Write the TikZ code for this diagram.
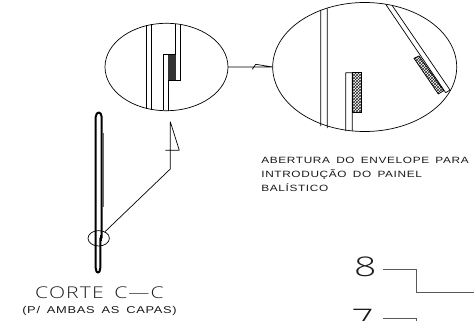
\documentclass[tikz,border=0pt]{standalone}
\usepackage{fontspec}
\usepackage{tkz-euclide}
\usetikzlibrary{patterns}
\newfontfamily\cadfont[FakeStretch=1.3,LetterSpace=7,WordSpace=1.6]{Liberation Sans}
\newfontfamily\cadlight[FakeStretch=1.3,LetterSpace=7,WordSpace=1.6]{Open Sans Light}
\newfontfamily\cadnum[FakeStretch=1.45]{Open Sans Light}
\tikzset{cadtext/.style={inner sep=0pt,font=\cadfont,text=black!90}}
\begin{document}
\begin{tikzpicture}[line width=0.7pt,x=1pt,y=-1pt]
\useasboundingbox (0,0) rectangle (474,321);
\clip (0,0) rectangle (474,321);
% detalhe pequeno
\tkzDefPoints{166.5/67/S,146.7/25/Sa,146.7/109/Sb,151.7/24/Sc,151.7/110/Sd}
\tkzDefPoints{175.7/24/Se,180/24.5/Sf,180/80.7/Sg,175.7/54/Sh,163.3/54/Si,163.3/110/Sj,168/110.5/Sk,168/80.7/Sl}
\draw (S) ellipse (61.5 and 43.7);
\fill[black!80] (168,54) rectangle (175.7,80.7);
\draw(Sa)--(Sb)(Sc)--(Sd)(Se)--(Sh)(Sh)--(Si)(Si)--(Sj)(Sk)--(Sl)(Sl)--(Sg)(Sg)--(Sf);
% detalhe grande
\tkzDefPoints{364.7/67/T,320.7/10/Ta,320.7/126/Tb,327.3/8.5/Tc,327.3/128/Td}
\tkzDefPoints{345.7/72.7/Te,345.7/131/Tf,352.3/131/Tg,352.3/72.7/Th,361.7/72.7/Ti,361.7/112.7/Tj,352.3/112.7/Tk}
\tkzDefPoints{385.7/4.3/Tl,445.7/92.7/Tm,392.3/5.7/Tn,450/90/To}
\tkzDefPoints{414/58.3/Tp,419/56/Tq,443.7/90.7/Tr,438.3/94/Ts}
\draw (T) ellipse (92 and 64.5);
\draw[pattern=crosshatch,pattern color=black!85] (Th)--(Ti)--(Tj)--(Tk)--cycle;
\draw[pattern=crosshatch,pattern color=black!85] (Tp)--(Tq)--(Tr)--(Ts)--cycle;
\draw(Ta)--(Tb)(Tc)--(Td)(Te)--(Tf)(Tg)--(Th)(Te)--(Th)(Tl)--(Tm)(Tn)--(To)(Tm)--(To);
% ligacao entre os detalhes
\tkzDefPoints{227.9/67/Ua,272.7/67/Ub,252.3/69.3/Uc,255.7/64.3/Ud}
\draw(Ua)--(Ub)(Uc)--(Ud)(Ud)--(Ub);
% corte
\tkzDefPoints{98.7/238.3/V,105/231.7/Va,170.3/169/Vb,170.3/121.7/Vc,179.3/150.3/Vd,165.3/150.3/Ve}
\tkzDefPoints{102.7/133/Vf,102.7/206.7/Vg}
\draw[line width=2pt,line join=round] (95.7,268) -- (95.7,117) .. controls (95.7,114) and (97.5,112.5) .. (98.7,112.5)
  .. controls (100,112.5) and (101.7,114) .. (101.7,117) -- (101.7,238) -- (100.3,238) -- (100.3,268)
  .. controls (100.3,271) and (99,272.7) .. (98,272.7) .. controls (97,272.7) and (95.7,271) .. (95.7,268);
\draw[thin,black!60](Vf)--(Vg);
\fill (99.5,235) rectangle (101.7,241);
\draw (V) ellipse (10.7 and 7.7);
\draw(Va)--(Vb)(Vb)--(Vc)(Vc)--(Vd)(Vd)--(Ve);
% textos
\node[cadtext,font=\cadlight\fontsize{16.2}{16.2}\selectfont] (corte) at (99.5,293) {CORTE C—C};
\node[cadtext,font=\cadfont\fontsize{9.9}{9.9}\selectfont] (capas) at (99.5,311) {(P/ AMBAS AS CAPAS)};
\node[cadtext,font=\cadfont\fontsize{9.1}{9.1}\selectfont,anchor=west] (abertura) at (261,160.7) {ABERTURA DO ENVELOPE PARA};
\node[cadtext,font=\cadfont\fontsize{9.1}{9.1}\selectfont,anchor=west] (introducao) at (261,174) {INTRODUÇÃO DO PAINEL};
\node[cadtext,font=\cadfont\fontsize{9.1}{9.1}\selectfont,anchor=west] (balistico) at (261,187.7) {BALÍSTICO};
\node[cadtext,font=\cadnum\fontsize{27}{27}\selectfont] (oito) at (365.3,267) {8};
\node[cadtext,font=\cadnum\fontsize{27}{27}\selectfont] (sete) at (362.5,318.7) {7};
% linhas de chamada
\tkzDefPoints{383.3/269/Wa,416/269/Wb,416/292.7/Wc,474/292.7/Wd,383.3/318/We,416/318/Wf,416/321/Wg}
\draw[black!65,line width=0.9pt](Wa)--(Wb)(Wb)--(Wc)(Wc)--(Wd)(We)--(Wf)(Wf)--(Wg);
\end{tikzpicture}
\end{document}
